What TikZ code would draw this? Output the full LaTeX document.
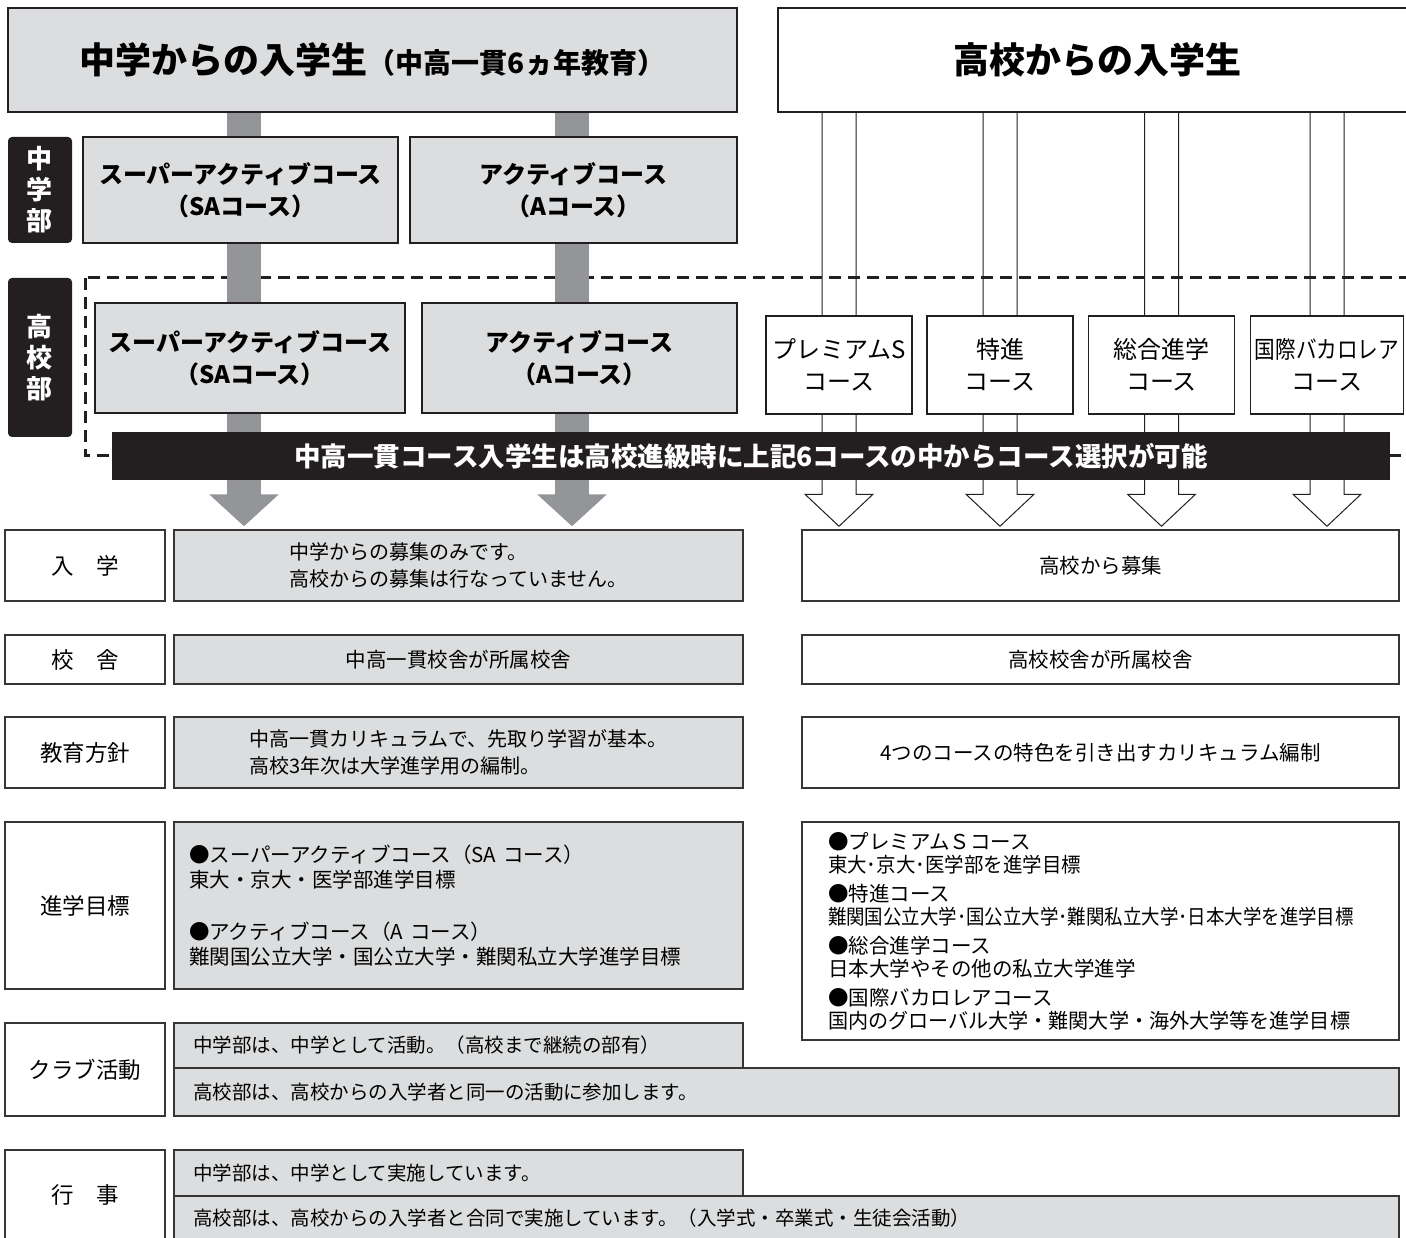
\documentclass[tikz,border=0pt]{standalone}
\usepackage{fontspec}
\setmainfont{Noto Sans CJK JP}
\usepackage{graphicx}
\usetikzlibrary{calc,arrows.meta,backgrounds}
\definecolor{panel}{RGB}{220,221,222}
\definecolor{bargray}{RGB}{147,149,152}
\definecolor{ink}{RGB}{35,31,32}
\tikzset{
	topbox/.style  = {draw=ink, line width=2.5pt, fill=panel, inner sep=0pt, align=center,
		font=\bfseries\fontsize{24}{32}\selectfont},
	hsbox/.style   = {draw=ink, line width=1.6pt, fill=white, inner sep=0pt, align=center,
		font=\fontsize{24}{32}\selectfont},
	sidetag/.style = {fill=ink, rounded corners=4pt, text=white, inner sep=0pt, align=center,
		minimum width=64pt, font=\bfseries\fontsize{26}{31}\selectfont},
	banner/.style  = {fill=ink, text=white, inner sep=0pt, font=\bfseries\fontsize{26.5}{30}\selectfont},
	rowtag/.style  = {draw=ink!90, line width=1.5pt, fill=white, inner sep=0pt, minimum width=160pt,
		font=\fontsize{22.5}{26}\selectfont},
	gcell/.style   = {draw=ink!90, line width=1.5pt, fill=panel, inner sep=0pt, align=center,
		minimum width=569pt, font=\fontsize{20}{27}\selectfont},
	wcell/.style   = {draw=ink!90, line width=1.5pt, fill=white, inner sep=0pt, align=center,
		minimum width=597pt, font=\fontsize{20.5}{27}\selectfont},
	feed/.style    = {draw=bargray, line width=34pt, -{Triangle[length=32pt, width=68pt]}},
	rail/.style    = {draw=ink, line width=1pt},
	fence/.style   = {draw=ink, line width=3pt, dash pattern=on 12pt off 7pt}
}

\begin{document}
\begin{tikzpicture}[x=1pt, y=-1pt]
	\useasboundingbox (0,0) rectangle (1406,1238);
	
	\draw
	node at (372.5,60)[topbox, minimum width=729pt, minimum height=104pt,
		font=\bfseries\fontsize{36}{40}\selectfont] (jtop)
		{中学からの入学生{\fontsize{28}{30}\selectfont （中高一貫6ヵ年教育）}}
	node at (1097,60)[hsbox, line width=2pt, minimum width=638pt, minimum height=104pt,
		font=\bfseries\fontsize{36}{40}\selectfont] (ktop) {高校からの入学生}
	node at (40,190)[sidetag, minimum height=106pt] (jtag) {中\\学\\部}
	node at (240.5,190)[topbox, minimum width=315pt, minimum height=106pt] (jsa)
		{スーパーアクティブコース\\（SAコース）}
	node at (573.5,190)[topbox, minimum width=327pt, minimum height=106pt] (ja)
		{アクティブコース\\（Aコース）}
	node at (40,357.5)[sidetag, minimum height=159pt] (ktag) {高\\校\\部}
	node at (250,358)[topbox, minimum width=310pt, minimum height=110pt] (ksa)
		{スーパーアクティブコース\\（SAコース）}
	node at (579.5,358)[topbox, minimum width=315pt, minimum height=110pt] (ka)
		{アクティブコース\\（Aコース）}
	node at (839,365)[hsbox, minimum width=146pt, minimum height=98pt] (cps) {プレミアムS\\コース}
	node at (1000,365)[hsbox, minimum width=146pt, minimum height=98pt] (ctk) {特進\\コース}
	node at (1161.5,365)[hsbox, minimum width=146pt, minimum height=98pt] (csg) {総合進学\\コース}
	node at (1327,365)[hsbox, minimum width=153pt, minimum height=98pt] (cib)
		{\scalebox{0.86}[1]{国際バカロレア}\\コース}
	node at (751,456)[banner, minimum width=1278pt, minimum height=48pt] (band)
		{中高一貫コース入学生は高校進級時に上記6コースの中からコース選択が可能}
	;
	
	\draw
	node at (85,565.5)[rowtag, minimum height=71pt] (t1) {入　学}
	node at (458.5,565.5)[gcell, minimum height=71pt, align=left] (g1)
		{中学からの募集のみです。\\高校からの募集は行なっていません。}
	node at (1100.5,565.5)[wcell, minimum height=71pt] (r1) {高校から募集}
	node at (85,659.5)[rowtag, minimum height=49pt] (t2) {校　舎}
	node at (458.5,659.5)[gcell, minimum height=49pt, font=\fontsize{20.5}{27}\selectfont] (g2)
		{中高一貫校舎が所属校舎}
	node at (1100.5,659.5)[wcell, minimum height=49pt] (r2) {高校校舎が所属校舎}
	node at (85,752.5)[rowtag, minimum height=71pt] (t3) {教育方針}
	node at (458.5,752.5)[gcell, minimum height=71pt, align=left] (g3)
		{中高一貫カリキュラムで、先取り学習が基本。\\高校3年次は大学進学用の編制。}
	node at (1100.5,752.5)[wcell, minimum height=71pt] (r3) {4つのコースの特色を引き出すカリキュラム編制}
	node at (85,905.5)[rowtag, minimum height=167pt] (t4) {進学目標}
	node at (458.5,905.5)[gcell, minimum height=167pt, text width=539pt, inner xsep=15pt,
		align=left, font=\fontsize{20.5}{25}\selectfont] (g4)
		{●スーパーアクティブコース（SA コース）\\東大・京大・医学部進学目標\\[27pt]
		●アクティブコース（A コース）\\難関国公立大学・国公立大学・難関私立大学進学目標}
	node at (1100.5,931)[wcell, minimum height=218pt, text width=545pt, inner xsep=26pt,
		align=left, font=\fontsize{20.5}{23}\selectfont] (r4)
		{●プレミアムＳコース\\\scalebox{0.95}[1]{東大･京大･医学部を進学目標}\\[6pt]
		●特進コース\\\scalebox{0.9}[1]{難関国公立大学･国公立大学･難関私立大学･日本大学を進学目標}\\[6pt]
		●総合進学コース\\日本大学やその他の私立大学進学\\[6pt]
		●国際バカロレアコース\\\scalebox{0.98}[1]{国内のグローバル大学・難関大学・海外大学等を進学目標}}
	node at (85,1069.5)[rowtag, minimum height=93pt] (t5) {クラブ活動}
	node at (458.5,1045.5)[gcell, minimum height=45pt, text width=531pt, inner xsep=19pt,
		align=left, font=\fontsize{19.5}{24}\selectfont] (g5a)
		{中学部は、中学として活動。（高校まで継続の部有）}
	node at (786.5,1092)[gcell, minimum width=1225pt, minimum height=48pt, text width=1187pt,
		inner xsep=19pt, align=left, font=\fontsize{19.5}{24}\selectfont] (g5b)
		{高校部は、高校からの入学者と同一の活動に参加します。}
	node at (85,1195)[rowtag, minimum height=90pt] (t6) {行　事}
	node at (458.5,1173)[gcell, minimum height=46pt, text width=531pt, inner xsep=19pt,
		align=left, font=\fontsize{19.5}{24}\selectfont] (g6a)
		{中学部は、中学として実施しています。}
	node at (786.5,1218)[gcell, minimum width=1225pt, minimum height=44pt, text width=1187pt,
		inner xsep=19pt, align=left, font=\fontsize{19.5}{24}\selectfont] (g6b)
		{高校部は、高校からの入学者と合同で実施しています。（入学式・卒業式・生徒会活動）}
	;
	
	\begin{pgfonlayer}{background}
		\draw[fence] (85,278) rectangle (1425,456);
		\coordinate (p1) at (244,0);
		\coordinate (p2) at (572,0);
		\draw[feed] (p1 |- jtop.south) -- ([yshift=3pt]p1 |- g1.north);
		\draw[feed] (p2 |- jtop.south) -- ([yshift=3pt]p2 |- g1.north);
		% open arrows from the high school entrance
		\foreach \c in {cps,ctk,csg,cib}
		\draw[rail] ($(\c |- ktop.south)+(-17,0)$) -- ($(\c |- r1.north)+(-17,-35)$) -- ++(-17,0)
			-- ($(\c |- r1.north)+(0,-3)$) -- ++(34,-32) -- ++(-17,0) -- ($(\c |- ktop.south)+(17,0)$);
	\end{pgfonlayer}
\end{tikzpicture}
\end{document}
